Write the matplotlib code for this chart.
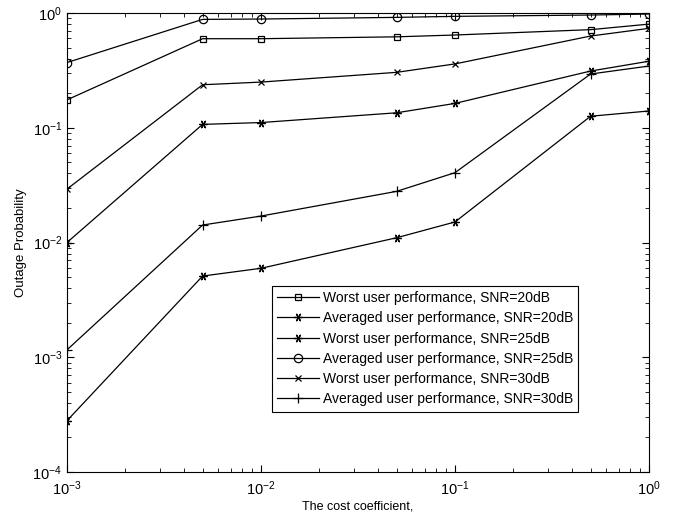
import numpy as np
import matplotlib.pyplot as plt

plt.rcParams['font.family'] = ['Liberation Sans', 'DejaVu Sans']
plt.rcParams['mathtext.fontset'] = 'custom'
plt.rcParams['mathtext.rm'] = 'Liberation Sans'

kappa = [1e-3, 5e-3, 1e-2, 5e-2, 1e-1, 5e-1, 1.0]

worst_20 = [0.175, 0.597, 0.597, 0.62, 0.643, 0.716, 0.80]
avg_20 = [2.8e-4, 5.1e-3, 5.96e-3, 0.011, 0.0151, 0.126, 0.14]
worst_25 = [0.01, 0.107, 0.111, 0.135, 0.163, 0.312, 0.38]
avg_25 = [0.37, 0.88, 0.886, 0.916, 0.935, 0.96, 0.98]
worst_30 = [0.0292, 0.237, 0.25, 0.304, 0.36, 0.63, 0.735]
avg_30 = [1.16e-3, 0.0142, 0.017, 0.0279, 0.0406, 0.294, 0.345]

star = (6, 2, 90)
series = [
    (worst_20, 's', 5, 'Worst user performance, SNR=20dB'),
    (avg_20, star, 6, 'Averaged user performance, SNR=20dB'),
    (worst_25, star, 6, 'Worst user performance, SNR=25dB'),
    (avg_25, 'o', 6, 'Averaged user performance, SNR=25dB'),
    (worst_30, 'x', 5, 'Worst user performance, SNR=30dB'),
    (avg_30, '+', 6.5, 'Averaged user performance, SNR=30dB'),
]

fig = plt.figure(figsize=(6.83, 5.18), dpi=100)
ax = fig.add_axes([67 / 683, 46 / 518, 582 / 683, 459 / 518])

for vals, mk, size, lab in series:
    ax.plot(kappa, vals, color='black', lw=0.9, marker=mk, ms=size,
            mfc='none', mec='black', mew=0.9, label=lab)

ax.set_xscale('log')
ax.set_yscale('log')
ax.set_xlim(1e-3, 1)
ax.set_ylim(1e-4, 1)
ax.tick_params(which='both', direction='in', top=True, right=True, labelsize=10.5)
ax.tick_params(which='major', length=5)
ax.tick_params(which='minor', length=3)
ax.tick_params(axis='x', pad=5)
ax.set_xlabel('The cost coefficient,', fontsize=9, labelpad=2)
ax.set_ylabel('Outage Probability', fontsize=9.5, labelpad=4)

leg = ax.legend(loc='lower left', bbox_to_anchor=(0.352, 0.131), borderaxespad=0,
                fontsize=10, fancybox=False, framealpha=1, edgecolor='black',
                borderpad=0.4, labelspacing=0.45, handlelength=3.0,
                handletextpad=0.25)
leg.get_frame().set_linewidth(0.8)

fig.savefig('out.png', dpi=100)
